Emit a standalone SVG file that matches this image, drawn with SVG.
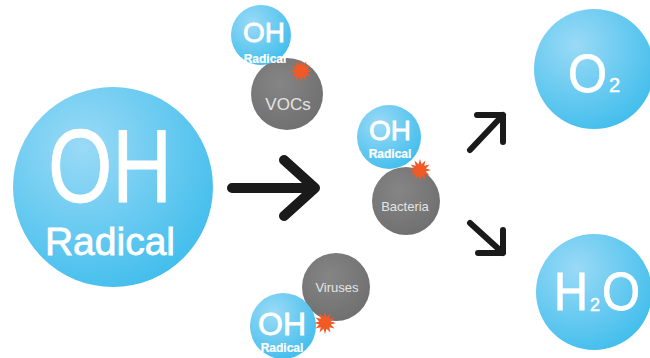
<svg xmlns="http://www.w3.org/2000/svg" width="650" height="358" viewBox="0 0 650 358">
  <defs>
    <radialGradient id="blue" cx="0.35" cy="0.3" r="0.8">
      <stop offset="0" stop-color="#9adaf6"/>
      <stop offset="0.6" stop-color="#62c8f0"/>
      <stop offset="1" stop-color="#3dbcec"/>
    </radialGradient>
    <radialGradient id="gray" cx="0.4" cy="0.35" r="0.8">
      <stop offset="0" stop-color="#858585"/>
      <stop offset="1" stop-color="#6c6c6c"/>
    </radialGradient>
    <polygon id="burst" points="11,0 5.8,1.55 9.53,5.5 4.24,4.24 5.5,9.53 1.55,5.8 0,11 -1.55,5.8 -5.5,9.53 -4.24,4.24 -9.53,5.5 -5.8,1.55 -11,0 -5.8,-1.55 -9.53,-5.5 -4.24,-4.24 -5.5,-9.53 -1.55,-5.8 0,-11 1.55,-5.8 5.5,-9.53 4.24,-4.24 9.53,-5.5 5.8,-1.55"/>
  </defs>
  <style>
    .b { fill: url(#blue); }
    .g { fill: url(#gray); }
    .star { fill: #f15a24; }
    text { font-family: "Liberation Sans", Arial, Helvetica, sans-serif; text-anchor: middle; }
    .w { fill: #ffffff; stroke: #ffffff; stroke-width: 0.8; }
    .gt { fill: #e4e4e4; }
    .oh { font-size: 28px; }
    .rad { font-size: 12px; font-weight: bold; stroke-width: 0.2; }
    .arrow { fill: none; stroke: #1a1a1a; stroke-linecap: round; stroke-linejoin: round; }
  </style>
  <rect width="650" height="358" fill="#ffffff"/>

  <g id="oh-radical">
    <circle class="b" cx="113" cy="187" r="100"/>
    <text class="w" x="110" y="202" font-size="103" stroke-width="2.5" textLength="124" lengthAdjust="spacingAndGlyphs">OH</text>
    <text class="w" x="110" y="255" font-size="39" stroke-width="1">Radical</text>
  </g>

  <g id="vocs">
    <circle class="g" cx="287" cy="94" r="36"/>
    <circle class="b" cx="261" cy="35" r="30"/>
    <text class="w oh" x="264" y="42">OH</text>
    <text class="w rad" x="265" y="63">Radical</text>
    <text class="gt" x="288" y="110" font-size="17">VOCs</text>
    <use href="#burst" class="star" x="301" y="71"/>
  </g>

  <g id="bacteria">
    <circle class="g" cx="406" cy="201" r="34"/>
    <circle class="b" cx="389" cy="137" r="32"/>
    <text class="w oh" x="390" y="140">OH</text>
    <text class="w rad" x="390" y="158">Radical</text>
    <text class="gt" x="405" y="211" font-size="13">Bacteria</text>
    <use href="#burst" class="star" x="420" y="170"/>
  </g>

  <g id="viruses">
    <circle class="g" cx="336" cy="287" r="34"/>
    <circle class="b" cx="283" cy="326" r="33"/>
    <text class="gt" x="337" y="292" font-size="13">Viruses</text>
    <text class="w" x="282" y="335" font-size="32">OH</text>
    <text class="w rad" x="282" y="352">Radical</text>
    <use href="#burst" class="star" x="325" y="323"/>
  </g>

  <g id="o2">
    <circle class="b" cx="594" cy="69" r="60"/>
    <text class="w" x="568" y="92" font-size="54" stroke-width="1.2" style="text-anchor:start"><tspan textLength="39" lengthAdjust="spacingAndGlyphs">O</tspan><tspan font-size="20" stroke-width="0.5" dx="2">2</tspan></text>
  </g>

  <g id="h2o">
    <circle class="b" cx="594" cy="292" r="58"/>
    <text class="w" x="554" y="310" font-size="53" stroke-width="1.2" style="text-anchor:start"><tspan textLength="34" lengthAdjust="spacingAndGlyphs">H</tspan><tspan font-size="18" stroke-width="0.5" dx="2" dy="1">2</tspan><tspan dy="-1" dx="2" textLength="38" lengthAdjust="spacingAndGlyphs">O</tspan></text>
  </g>

  <g id="connectors">
    <path class="arrow" stroke-width="10" d="M232,188 H315 M284,160 L315,188 L284,216"/>
    <path class="arrow" stroke-width="6" d="M470,150 L503,115 M477,115 H503 V142"/>
    <path class="arrow" stroke-width="6" d="M470,223 L503,253 M503,230 V253 H478"/>
  </g>
</svg>
